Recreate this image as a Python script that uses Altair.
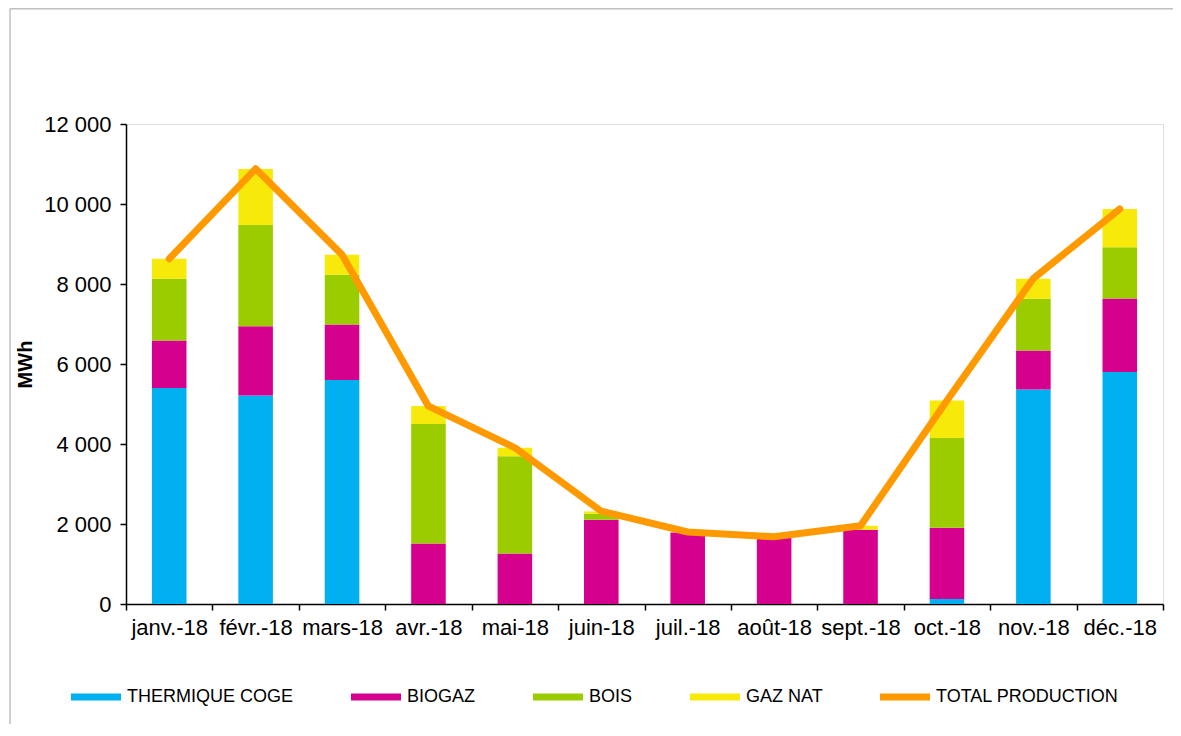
import altair as alt
import pandas as pd

months = ["janv.-18", "févr.-18", "mars-18", "avr.-18", "mai-18", "juin-18",
          "juil.-18", "août-18", "sept.-18", "oct.-18", "nov.-18", "déc.-18"]
thermique = [5400, 5210, 5600, 0, 0, 0, 0, 0, 0, 125, 5360, 5800]
biogaz = [1190, 1735, 1390, 1515, 1265, 2105, 1790, 1670, 1855, 1780, 980, 1840]
bois = [1540, 2530, 1240, 2985, 2430, 150, 0, 0, 0, 2245, 1290, 1280]
gaz_nat = [500, 1400, 500, 450, 210, 60, 0, 0, 100, 940, 500, 955]
total = [8630, 10880, 8730, 4945, 3905, 2320, 1800, 1680, 1955, 5090, 8140, 9875]

series_names = ["THERMIQUE COGE", "BIOGAZ", "BOIS", "GAZ NAT", "TOTAL PRODUCTION"]
colors = ["#00B0F0", "#D6008F", "#9BCC00", "#F7EA0A", "#FF9900"]
y_ticks = [0, 2000, 4000, 6000, 8000, 10000, 12000]

rows = []
for i, m in enumerate(months):
    for k, vals in enumerate([thermique, biogaz, bois, gaz_nat]):
        rows.append({"mois": m, "serie": series_names[k], "valeur": vals[i], "ordre": k})
bars_df = pd.DataFrame(rows)
line_df = pd.DataFrame({"mois": months, "valeur": total, "serie": series_names[4]})

W, H = 1037, 480
PAD = {"left": 118, "top": 116, "right": 10, "bottom": 120}
FONT = "Liberation Sans"

color_scale = alt.Scale(domain=series_names, range=colors)
legend = alt.Legend(
    orient="none", direction="horizontal", legendX=-55, legendY=548, title=None,
    symbolType="M-1,-0.14L1,-0.14L1,0.14L-1,0.14Z", symbolSize=2500,
    symbolStrokeWidth=0, symbolOpacity=1,
    labelFont=FONT, labelFontSize=18, labelColor="#000000", labelOffset=6,
    labelLimit=400, columnPadding=57,
)

x_enc = alt.X(
    "mois:N", sort=months,
    scale=alt.Scale(paddingInner=0, paddingOuter=0),
    axis=alt.Axis(title=None, labelAngle=0, tickBand="extent", labelPadding=7,
                  labelFont=FONT, labelFontSize=22, labelColor="#000000",
                  tickSize=6, tickColor="#000000", tickWidth=1.5,
                  domainColor="#000000", domainWidth=1.5),
)
y_axis = alt.Axis(
    title="MWh", values=y_ticks, grid=False,
    labelExpr="datum.value == 0 ? '0' : floor(datum.value / 1000) + ' 000'",
    labelFont=FONT, labelFontSize=22, labelColor="#000000", labelPadding=9,
    tickSize=6, tickColor="#000000", tickWidth=1.5,
    domainColor="#000000", domainWidth=1.5,
    titleFont=FONT, titleFontSize=20, titleFontWeight="bold", titleColor="#000000",
    titleX=-101, titleY=H / 2, titleAngle=270, titleAlign="center", titleBaseline="middle",
)

bars = alt.Chart(bars_df).mark_bar(width=alt.RelativeBandSize(0.4)).encode(
    x=x_enc,
    y=alt.Y("valeur:Q", stack="zero", scale=alt.Scale(domain=[0, 12000]), axis=y_axis),
    color=alt.Color("serie:N", scale=color_scale, legend=legend),
    order=alt.Order("ordre:Q", sort="ascending"),
)

line = alt.Chart(line_df).mark_line(strokeWidth=7, strokeCap="round", strokeJoin="round").encode(
    x=x_enc,
    y=alt.Y("valeur:Q", scale=alt.Scale(domain=[0, 12000]), axis=y_axis),
    color=alt.Color("serie:N", scale=color_scale, legend=legend),
)

frame_df = pd.DataFrame({"a": [0]})
frame_left = alt.Chart(frame_df).mark_rule(stroke="#C0C0C0", strokeWidth=1.5).encode(
    x=alt.value(-116), x2=alt.value(-116),
    y=alt.value(-115.3), y2=alt.value(H + PAD["bottom"] + 20),
)
frame_top = alt.Chart(frame_df).mark_rule(stroke="#C0C0C0", strokeWidth=1.5).encode(
    x=alt.value(-116), x2=alt.value(W + PAD["right"] + 20),
    y=alt.value(-115.3), y2=alt.value(-115.3),
)

chart = alt.layer(frame_left, frame_top, bars, line).properties(
    width=W, height=H,
    autosize=alt.AutoSizeParams(type="none"),
    padding=PAD,
).configure_view(
    stroke="#808080", strokeWidth=1.5
).configure(background="white")

chart.save("out.html", embed_options={"renderer": "svg", "actions": False})
